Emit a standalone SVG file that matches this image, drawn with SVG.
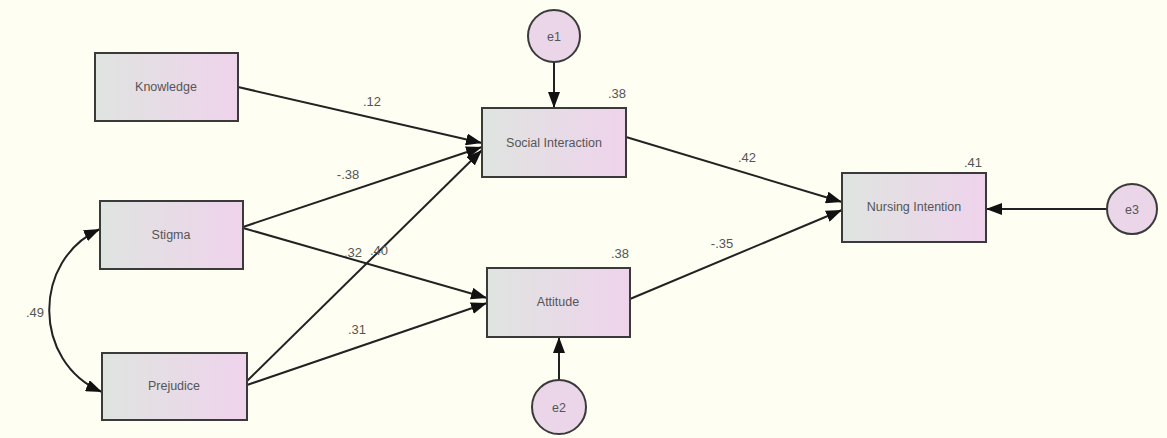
<svg xmlns="http://www.w3.org/2000/svg" width="1167" height="438" viewBox="0 0 1167 438">
<defs>
<linearGradient id="g" x1="0" y1="0" x2="1" y2="0">
<stop offset="0" stop-color="#dfe4e0"/>
<stop offset="1" stop-color="#efd3ec"/>
</linearGradient>
<marker id="a" viewBox="0 0 16 12" refX="16" refY="6" markerWidth="16" markerHeight="12" markerUnits="userSpaceOnUse" orient="auto">
<path d="M0,0 L16,6 L0,12 Z" fill="#111"/>
</marker>
<marker id="as" viewBox="0 0 16 12" refX="16" refY="6" markerWidth="16" markerHeight="12" markerUnits="userSpaceOnUse" orient="auto-start-reverse">
<path d="M0,0 L16,6 L0,12 Z" fill="#111"/>
</marker>
</defs>
<style>
.box{fill:url(#g);stroke:#3a3a3a;stroke-width:2}
.err{fill:#ead6e8;stroke:#3a3a3a;stroke-width:2}
.t{font-family:"Liberation Sans",Arial,sans-serif;font-size:12.5px;fill:#555;text-anchor:middle;dominant-baseline:central}
.n{font-family:"Liberation Sans",Arial,sans-serif;font-size:13px;fill:#555;text-anchor:middle;dominant-baseline:central}
.c{fill:none;stroke:#222;stroke-width:2;marker-end:url(#a)}
</style>
<rect width="1167" height="438" fill="#fefef3"/>
<g id="connectors">
<line class="c" x1="238" y1="87" x2="482" y2="143"/>
<line class="c" x1="243" y1="227" x2="482" y2="147"/>
<line class="c" x1="247" y1="381" x2="482" y2="150"/>
<line class="c" x1="243" y1="228" x2="487" y2="298"/>
<line class="c" x1="247" y1="385" x2="487" y2="303"/>
<line class="c" x1="626" y1="137" x2="842" y2="202"/>
<line class="c" x1="630" y1="299" x2="842" y2="210"/>
<line class="c" x1="554" y1="62" x2="554" y2="108"/>
<line class="c" x1="559" y1="380" x2="559" y2="337"/>
<line class="c" x1="1107" y1="209" x2="986" y2="209"/>
<path d="M100,229 C32,260 32,362 102,392" fill="none" stroke="#222" stroke-width="2" marker-start="url(#as)" marker-end="url(#as)"/>
<text class="n" x="372" y="101">.12</text>
<text class="n" x="348" y="174">-.38</text>
<text class="n" x="353" y="252">.32</text>
<text class="n" x="379" y="250">.40</text>
<text class="n" x="357" y="329">.31</text>
<text class="n" x="747" y="157">.42</text>
<text class="n" x="722" y="243">-.35</text>
<text class="n" x="35" y="312">.49</text>
</g>
<g id="knowledge"><rect class="box" x="95" y="53" width="143" height="68"/><text class="t" x="166" y="87">Knowledge</text></g>
<g id="stigma"><rect class="box" x="100" y="201" width="143" height="68"/><text class="t" x="171" y="235">Stigma</text></g>
<g id="prejudice"><rect class="box" x="102" y="353" width="145" height="67"/><text class="t" x="174" y="386">Prejudice</text></g>
<g id="social"><rect class="box" x="482" y="108" width="144" height="69"/><text class="t" x="554" y="143">Social Interaction</text><text class="n" x="617" y="93">.38</text></g>
<g id="attitude"><rect class="box" x="487" y="268" width="143" height="69"/><text class="t" x="558" y="302">Attitude</text><text class="n" x="620" y="253">.38</text></g>
<g id="nursing"><rect class="box" x="842" y="173" width="144" height="69"/><text class="t" x="914" y="207">Nursing Intention</text><text class="n" x="973" y="162">.41</text></g>
<g id="e1"><circle class="err" cx="554" cy="36" r="26"/><text class="t" x="554" y="37">e1</text></g>
<g id="e2"><circle class="err" cx="559" cy="407" r="27"/><text class="t" x="559" y="408">e2</text></g>
<g id="e3"><circle class="err" cx="1132" cy="209" r="25"/><text class="t" x="1132" y="210">e3</text></g>
</svg>
